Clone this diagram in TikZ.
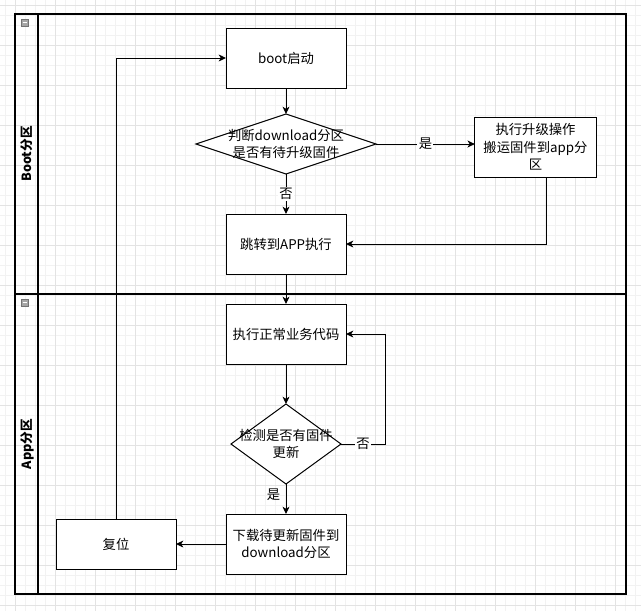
\documentclass[tikz,border=0pt]{standalone}
\usepackage{fontspec}
\setmainfont{Noto Sans CJK SC}
\usetikzlibrary{shapes.geometric,arrows.meta}
\tikzset{
  stepbox/.style={draw,line width=0.75pt,outer sep=0pt,align=center,
    minimum width=90pt,minimum height=45pt,font=\fontsize{10}{13}\selectfont},
  decide/.style={draw,diamond,line width=0.75pt,outer sep=0pt,inner sep=0pt},
  txt/.style={align=center,font=\fontsize{10}{13}\selectfont},
  lbl/.style={fill=white,inner sep=1pt,font=\fontsize{10}{12}\selectfont},
  flow/.style={line width=0.75pt,-{Stealth[length=5.5pt,width=5.2pt,inset=1.6pt]}},
  lanetitle/.style={rotate=90,font=\fontsize{9.5}{11}\selectfont\bfseries},
}
\begin{document}
\begin{tikzpicture}[x=0.75pt,y=-0.75pt]
\useasboundingbox (0,0) rectangle (641,611);
% grid
\foreach \k in {0,...,63} \draw[line width=0.5pt,black!5] (5+10*\k,0) -- (5+10*\k,611);
\foreach \k in {0,...,60} \draw[line width=0.5pt,black!5] (0,5+10*\k) -- (641,5+10*\k);
\foreach \k in {0,...,15} \draw[line width=0.6pt,black!11] (15+40*\k,0) -- (15+40*\k,611);
\foreach \k in {0,...,15} \draw[line width=0.6pt,black!11] (0,5+40*\k) -- (641,5+40*\k);
% pool and lanes
\draw[line width=1pt] (15,14) rectangle (626,594);
\draw[line width=1pt] (38,14) -- (38,594);
\draw[line width=1pt] (15,294) -- (626,294);
\foreach \y in {19,299} {
  \draw[fill=black!35,draw=black!55,line width=0.5pt] (21,\y) rectangle (28,\y+7);
  \draw[line width=0.7pt,white] (22.5,\y+3.5) -- (26.5,\y+3.5);
}
\node[lanetitle] (bootlane) at (27,154) {Boot分区};
\node[lanetitle] (applane) at (27,444) {App分区};
% boot lane
\node[stepbox,fill=white] (boot) at (286,58) {boot启动};
\node[decide,fill=white,minimum width=135pt,minimum height=45pt] (check1) at (286,144) {};
\node[txt] at (check1) {判断download分区\\是否有待升级固件};
\node[stepbox,fill=white,minimum width=91pt] (upgrade) at (535.5,147) {执行升级操作\\搬运固件到app分\\区};
\node[stepbox,fill=white] (jump) at (286,244) {跳转到APP执行};
\coordinate (upexit) at (546,177);
% app lane
\node[stepbox,fill=white] (normal) at (286,334) {执行正常业务代码};
\node[decide,fill=white,minimum width=82.5pt,minimum height=60pt] (check2) at (286,444) {};
\node[txt] at (check2) {检测是否有固件\\更新};
\node[stepbox,fill=white] (download) at (286,544) {下载待更新固件到\\download分区};
\node[stepbox,fill=white,minimum height=37.5pt] (reset) at (116,544) {复位};
\coordinate (loopx) at (385,0);
% connectors
\draw[flow] (boot) -- (check1);
\draw[flow] (check1.east) -- node[lbl] {是} (check1.east -| upgrade.west);
\draw[flow] (check1) -- node[lbl] {否} (jump);
\draw[flow] (upexit) |- (jump.east);
\draw[flow] (jump) -- (normal);
\draw[flow] (normal) -- (check2);
\draw[flow] (check2.east) -- node[lbl] {否} (check2.east -| loopx) |- (normal.east);
\draw[flow] (check2) -- node[lbl,anchor=east,fill=none,pos=0.35,xshift=-3pt] {是} (download);
\draw[flow] (download) -- (reset);
\draw[flow] (reset.north) |- (boot.west);
\end{tikzpicture}
\end{document}
